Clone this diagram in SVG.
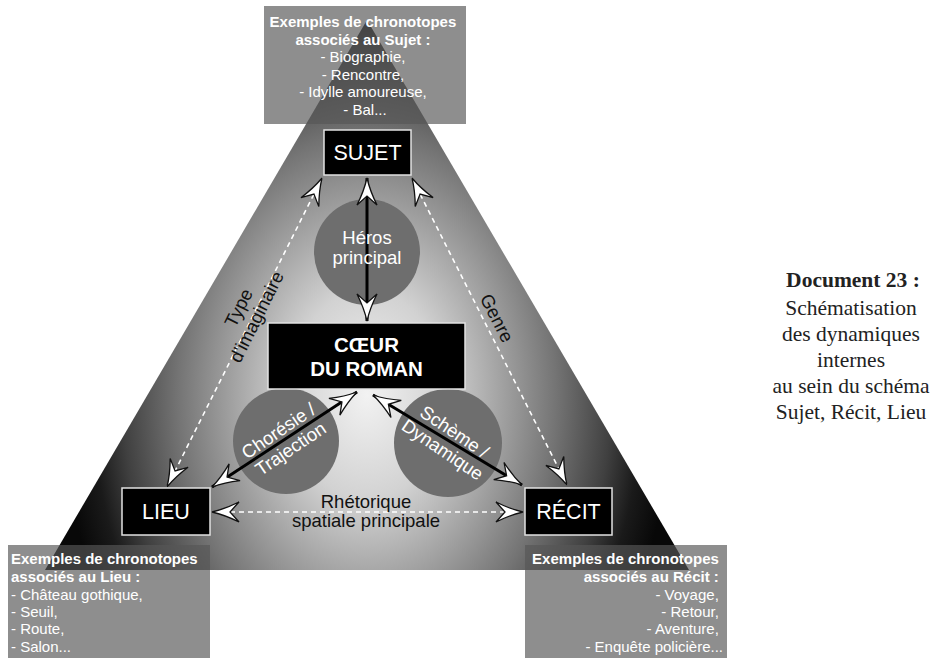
<svg xmlns="http://www.w3.org/2000/svg" width="935" height="658" viewBox="0 0 935 658">
  <defs>
    <!-- light core fading to near-black at the three corners -->
    <radialGradient id="coreGlow" gradientUnits="userSpaceOnUse" cx="0" cy="0" r="1" gradientTransform="translate(367,395) scale(305,420)">
      <stop offset="0" stop-color="#f2f2f2"/>
      <stop offset="0.25" stop-color="#d2d2d2"/>
      <stop offset="0.5" stop-color="#939393"/>
      <stop offset="0.62" stop-color="#747474"/>
      <stop offset="0.8" stop-color="#404040"/>
      <stop offset="0.9" stop-color="#1a1a1a"/>
      <stop offset="1" stop-color="#080808"/>
    </radialGradient>
    <!-- white swept arrowhead with dark outline, used at both ends of every connector -->
    <marker id="head" viewBox="-30 -13 33 26" refX="0" refY="0" markerWidth="33" markerHeight="26" markerUnits="userSpaceOnUse" orient="auto-start-reverse" overflow="visible">
      <path d="M0,0 Q-13,-3 -27,-10 L-18,0 L-27,10 Q-13,3 0,0 Z" fill="#ffffff" stroke="#111111" stroke-width="1.3" stroke-dasharray="none" stroke-linejoin="miter"/>
    </marker>
    <style>
      .example { fill: #575757; fill-opacity: 0.67; }
      .ex-text { font-family: "Liberation Sans", Arial, sans-serif; font-size: 15px; fill: #ffffff; }
      .ex-bold { font-weight: bold; }
      .hub { fill: #6e6e6e; }
      .node-box { fill: #000000; stroke: #e2e2e2; stroke-width: 1.5; }
      .node-text { font-family: "Liberation Sans", Arial, sans-serif; font-size: 21.5px; fill: #ffffff; text-anchor: middle; }
      .core-text { font-family: "Liberation Sans", Arial, sans-serif; font-size: 20.5px; font-weight: bold; fill: #ffffff; text-anchor: middle; }
      .hub-text { font-family: "Liberation Sans", Arial, sans-serif; font-size: 18.5px; fill: #ffffff; text-anchor: middle; }
      .edge-label { font-family: "Liberation Sans", Arial, sans-serif; font-size: 18.5px; fill: #111111; text-anchor: middle; }
      .solid { stroke: #000000; stroke-width: 3; fill: none; marker-start: url(#head); marker-end: url(#head); }
      .dashed { stroke: #ffffff; stroke-width: 1.6; stroke-dasharray: 5 4; fill: none; marker-start: url(#head); marker-end: url(#head); }
      .caption { font-family: "Liberation Serif", "Times New Roman", serif; font-size: 21.5px; fill: #222222; text-anchor: middle; }
    </style>
  </defs>

  <rect width="935" height="658" fill="#ffffff"/>

  <!-- main triangle -->
  <polygon id="triangle" points="367,20 45,570 689,570" fill="url(#coreGlow)"/>

  <!-- hubs under the inner arrows -->
  <g id="hub-heros"><circle class="hub" cx="367" cy="252" r="53"/></g>
  <g id="hub-choresie"><circle class="hub" cx="286" cy="441" r="53"/></g>
  <g id="hub-scheme"><circle class="hub" cx="448" cy="443" r="54"/></g>

  <!-- chronotope example panels -->
  <g id="examples-sujet">
    <rect class="example" x="264" y="6" width="202" height="118"/>
    <text class="ex-text" text-anchor="middle">
      <tspan class="ex-bold" x="365" y="27">Exemples de chronotopes</tspan>
      <tspan class="ex-bold" x="365" y="45">associés au Sujet :</tspan>
      <tspan x="365" y="62">- Biographie,</tspan>
      <tspan x="365" y="80">- Rencontre,</tspan>
      <tspan x="365" y="97">- Idylle amoureuse,</tspan>
      <tspan x="365" y="115">- Bal...</tspan>
    </text>
  </g>
  <g id="examples-lieu">
    <rect class="example" x="8" y="545" width="202" height="113"/>
    <text class="ex-text">
      <tspan class="ex-bold" x="11" y="564">Exemples de chronotopes</tspan>
      <tspan class="ex-bold" x="11" y="582">associés au Lieu :</tspan>
      <tspan x="11" y="600">- Château gothique,</tspan>
      <tspan x="11" y="617">- Seuil,</tspan>
      <tspan x="11" y="634">- Route,</tspan>
      <tspan x="11" y="652">- Salon...</tspan>
    </text>
  </g>
  <g id="examples-recit">
    <rect class="example" x="525" y="545" width="202" height="113"/>
    <text class="ex-text" text-anchor="end">
      <tspan class="ex-bold" x="723" y="564">Exemples de chronotopes</tspan>
      <tspan class="ex-bold" x="723" y="582">associés au Récit :</tspan>
      <tspan x="723" y="600">- Voyage,</tspan>
      <tspan x="723" y="617">- Retour,</tspan>
      <tspan x="723" y="634">- Aventure,</tspan>
      <tspan x="723" y="652">- Enquête policière...</tspan>
    </text>
  </g>

  <!-- connectors -->
  <g id="connectors">
    <line class="solid" x1="367" y1="178" x2="367" y2="321"/>
    <line class="solid" x1="357" y1="392" x2="212" y2="487"/>
    <line class="solid" x1="373" y1="395" x2="522" y2="485"/>
    <line class="dashed" x1="322" y1="178" x2="167" y2="487"/>
    <line class="dashed" x1="412" y1="178" x2="567" y2="485"/>
    <line class="dashed" x1="212" y1="512" x2="523" y2="512"/>
  </g>

  <!-- hub labels -->
  <text class="hub-text"><tspan x="367" y="244">Héros</tspan><tspan x="367" y="264">principal</tspan></text>
  <g transform="translate(284,439) rotate(-34)">
    <text class="hub-text"><tspan x="0" y="-3.5">Chorésie /</tspan><tspan x="0" y="18">Trajection</tspan></text>
  </g>
  <g transform="translate(449,440) rotate(34)">
    <text class="hub-text"><tspan x="0" y="-3.5">Schème /</tspan><tspan x="0" y="18">Dynamique</tspan></text>
  </g>

  <!-- connector labels -->
  <g transform="translate(247,312) rotate(-63.4)">
    <text class="edge-label"><tspan x="0" y="-3">Type</tspan><tspan x="0" y="17">d'imaginaire</tspan></text>
  </g>
  <g transform="translate(497,318) rotate(63.2)">
    <text class="edge-label" x="0" y="6.5">Genre</text>
  </g>
  <text class="edge-label"><tspan x="366" y="508">Rhétorique</tspan><tspan x="366" y="527">spatiale principale</tspan></text>

  <!-- nodes -->
  <g id="sujet">
    <rect class="node-box" x="324" y="130" width="87" height="45"/>
    <text class="node-text" x="367.5" y="160">SUJET</text>
  </g>
  <g id="coeur">
    <rect class="node-box" x="268" y="323" width="197" height="66"/>
    <text class="core-text"><tspan x="366.5" y="352">CŒUR</tspan><tspan x="366.5" y="376">DU ROMAN</tspan></text>
  </g>
  <g id="lieu">
    <rect class="node-box" x="122" y="488" width="88" height="47"/>
    <text class="node-text" x="166" y="519">LIEU</text>
  </g>
  <g id="recit">
    <rect class="node-box" x="525" y="488" width="87" height="47"/>
    <text class="node-text" x="568.5" y="519">RÉCIT</text>
  </g>

  <!-- caption -->
  <g id="caption">
    <text class="caption" font-weight="bold" x="853" y="287">Document 23 :</text>
    <text class="caption" x="851" y="315">Schématisation</text>
    <text class="caption" x="851" y="341">des dynamiques</text>
    <text class="caption" x="851" y="367">internes</text>
    <text class="caption" x="851" y="393">au sein du schéma</text>
    <text class="caption" x="851" y="419">Sujet, Récit, Lieu</text>
  </g>
</svg>
